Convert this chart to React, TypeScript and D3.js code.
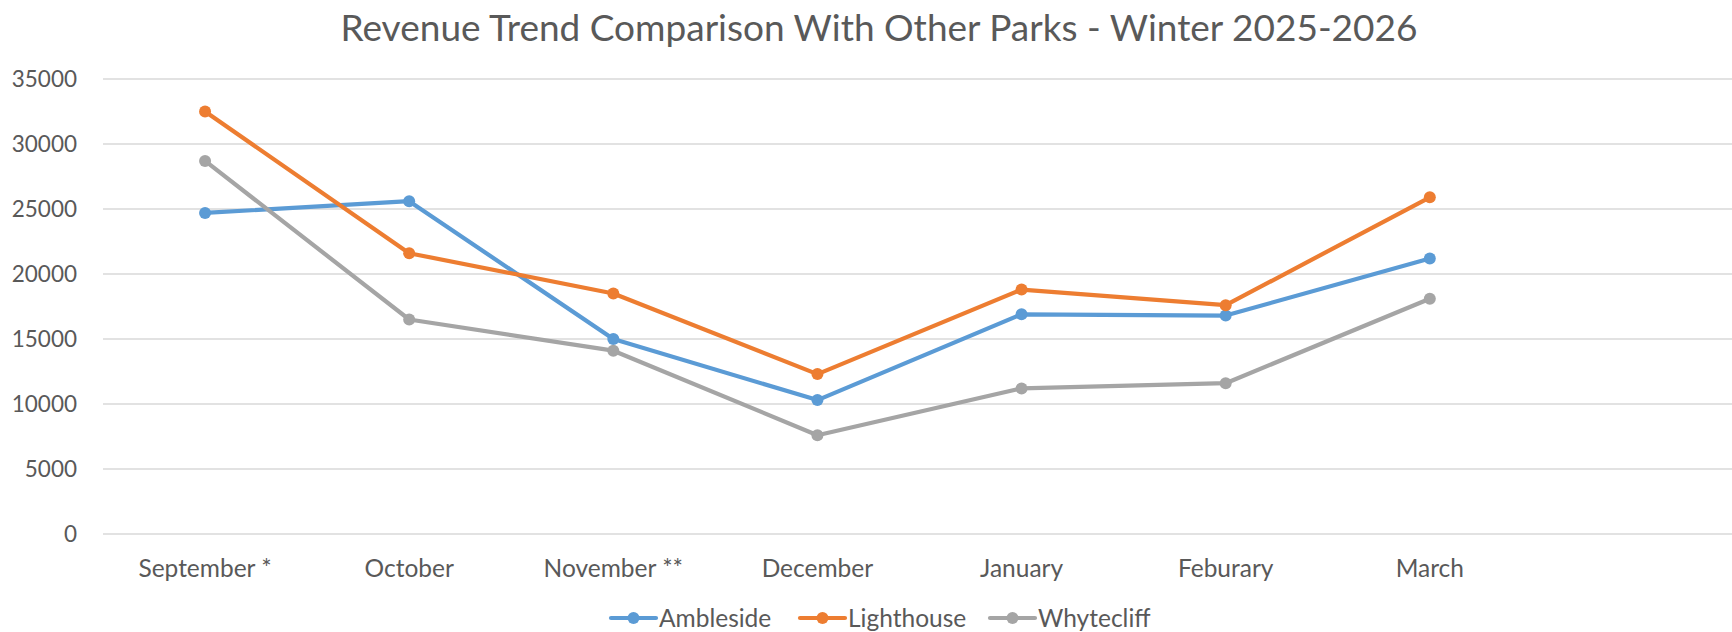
import React, { useEffect, useRef } from "react";
import * as d3 from "d3";

// month labels (last slot is an empty category in the original sheet)
const months = ["September *", "October", "November **", "December", "January", "Feburary", "March", ""];

const ambleside = [24700, 25600, 15000, 10300, 16900, 16800, 21200];
const lighthouse = [32500, 21600, 18500, 12300, 18800, 17600, 25900];
const whytecliff = [28700, 16500, 14100, 7600, 11200, 11600, 18100];

const yTicks = [0, 5000, 10000, 15000, 20000, 25000, 30000, 35000];

const seriesNames = ["Ambleside", "Lighthouse", "Whytecliff"];
const seriesColors = ["#5B9BD5", "#ED7D31", "#A5A5A5"];

const W = 1732;
const H = 632;
const FONT = "Lato, 'Open Sans', sans-serif";

export default function App() {
    const ref = useRef<SVGSVGElement>(null);

    useEffect(() => {
        const svg = d3.select(ref.current);
        svg.selectAll("*").remove();

        const left = 103, right = 1736, top = 79, bottom = 534;

        const x = d3.scaleBand().domain(months.map((m, i) => i + "")).range([left, right]);
        const y = d3.scaleLinear().domain([0, 35000]).range([bottom, top]);
        const cx = (i: number) => (x(i + "") as number) + x.bandwidth() / 2;

        // title
        svg.append("text")
            .attr("x", 879)
            .attr("y", 41)
            .attr("text-anchor", "middle")
            .attr("font-family", FONT)
            .attr("font-size", 37)
            .attr("fill", "#595959")
            .text("Revenue Trend Comparison With Other Parks - Winter 2025-2026");

        // gridlines
        svg.append("g").selectAll("line")
            .data(yTicks)
            .enter().append("line")
            .attr("x1", left).attr("x2", right)
            .attr("y1", d => y(d)).attr("y2", d => y(d))
            .attr("stroke", "#D9D9D9")
            .attr("stroke-width", 1.5);

        // y labels
        svg.append("g").selectAll("text")
            .data(yTicks)
            .enter().append("text")
            .attr("x", 77)
            .attr("y", d => y(d) + 8)
            .attr("text-anchor", "end")
            .attr("font-family", FONT)
            .attr("font-size", 22.5)
            .attr("fill", "#595959")
            .text(d => d);

        // x labels
        svg.append("g").selectAll("text")
            .data(months)
            .enter().append("text")
            .attr("x", (d, i) => cx(i))
            .attr("y", 577)
            .attr("text-anchor", "middle")
            .attr("font-family", FONT)
            .attr("font-size", 24.5)
            .attr("fill", "#595959")
            .text(d => d);

        const allSeries = [ambleside, lighthouse, whytecliff];
        const line = d3.line<number>().x((d, i) => cx(i)).y(d => y(d));

        allSeries.forEach((vals, s) => {
            const g = svg.append("g");
            g.append("path")
                .datum(vals)
                .attr("d", line)
                .attr("fill", "none")
                .attr("stroke", seriesColors[s])
                .attr("stroke-width", 4.2)
                .attr("stroke-linejoin", "round")
                .attr("stroke-linecap", "round");
            g.selectAll("circle")
                .data(vals)
                .enter().append("circle")
                .attr("cx", (d, i) => cx(i))
                .attr("cy", d => y(d))
                .attr("r", 6)
                .attr("fill", seriesColors[s]);
        });

        // legend
        const legendX = [611, 800, 990];
        const legend = svg.append("g");
        seriesNames.forEach((name, s) => {
            const lx = legendX[s];
            legend.append("line")
                .attr("x1", lx).attr("x2", lx + 45)
                .attr("y1", 618).attr("y2", 618)
                .attr("stroke", seriesColors[s])
                .attr("stroke-width", 4.2)
                .attr("stroke-linecap", "round");
            legend.append("circle")
                .attr("cx", lx + 22.5).attr("cy", 618).attr("r", 6)
                .attr("fill", seriesColors[s]);
            legend.append("text")
                .attr("x", lx + 48)
                .attr("y", 627)
                .attr("font-family", FONT)
                .attr("font-size", 24.5)
                .attr("fill", "#595959")
                .text(name);
        });
    }, []);

    return (
        <svg ref={ref} width={W} height={H}
            style={{ position: "absolute", left: 0, top: 0, background: "#fff" }} />
    );
}
